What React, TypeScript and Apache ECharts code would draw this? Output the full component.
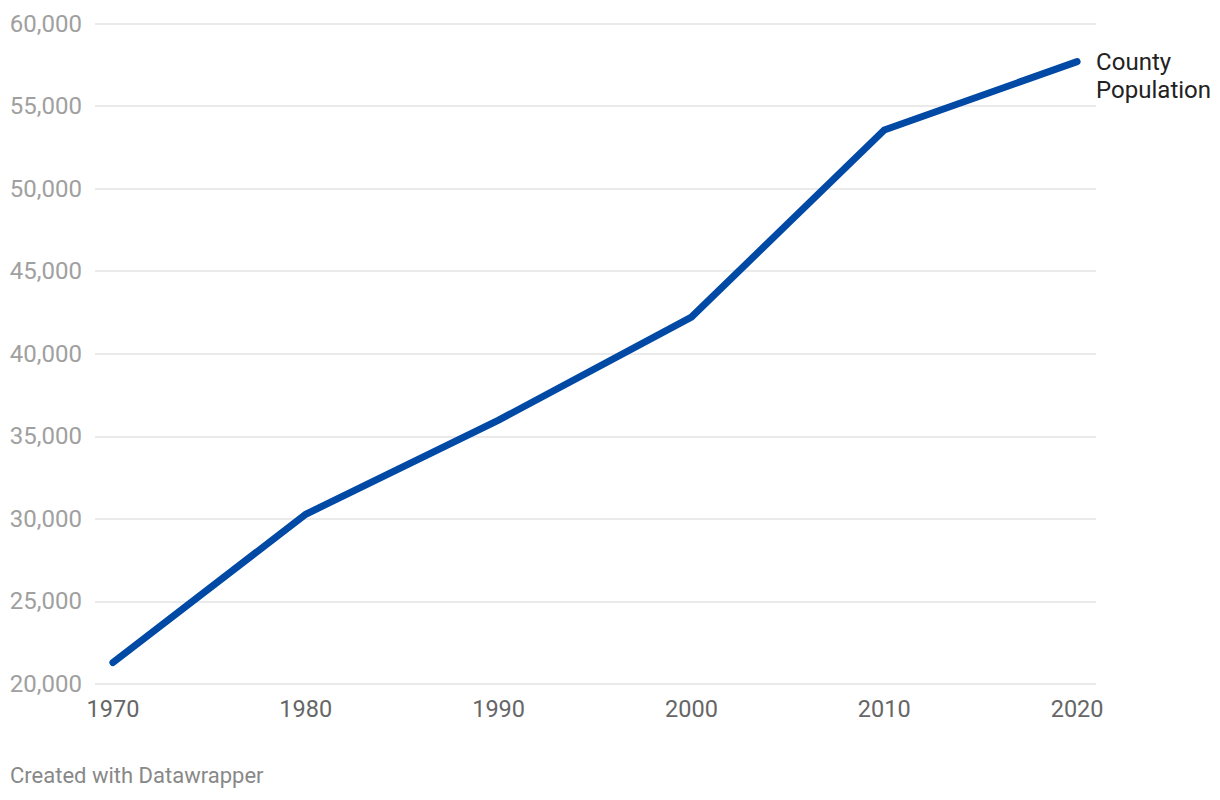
import React, { useEffect, useRef } from "react";
import * as echarts from "echarts";

const years = [1970, 1980, 1990, 2000, 2010, 2020];
const population = [21300, 30280, 35980, 42220, 53550, 57690];
const yTicks = [20000, 25000, 30000, 35000, 40000, 45000, 50000, 55000, 60000];
const seriesName = "County\nPopulation";
const credit = "Created with Datawrapper";

export default function App() {
  const ref = useRef<HTMLDivElement>(null);
  useEffect(() => {
    if (!ref.current) return;
    const chart = echarts.init(ref.current, undefined, { renderer: "svg" });
    chart.setOption({
      animation: false,
      backgroundColor: "#ffffff",
      textStyle: { fontFamily: "Roboto" },
      grid: { left: 95, right: 124, top: 23.5, bottom: 116, containLabel: false },
      xAxis: {
        type: "value",
        min: 1969.07,
        max: 2020.98,
        axisLine: { show: false },
        axisTick: { show: false },
        splitLine: { show: false },
        axisLabel: {
          customValues: years,
          formatter: (v: number) => String(v),
          color: "#666666",
          fontSize: 23.5,
          fontFamily: "Roboto",
          margin: 13,
        },
      },
      yAxis: {
        type: "value",
        min: yTicks[0],
        max: yTicks[yTicks.length - 1],
        interval: 5000,
        axisLine: { show: false },
        axisTick: { show: false },
        splitLine: { show: true, lineStyle: { color: "#e3e3e3", width: 1.5 } },
        axisLabel: {
          formatter: (v: number) => v.toLocaleString("en-US"),
          color: "#a0a0a0",
          fontSize: 24,
          fontFamily: "Roboto",
          margin: 13,
        },
      },
      series: [
        {
          type: "line",
          name: seriesName,
          data: years.map((y, i) => [y, population[i]]),
          showSymbol: false,
          symbol: "none",
          lineStyle: { color: "#0049a5", width: 7, cap: "round", join: "miter" },
          endLabel: {
            show: true,
            formatter: seriesName,
            color: "#222222",
            fontSize: 24,
            lineHeight: 28,
            fontFamily: "Roboto",
            distance: 19,
            offset: [0, 14],
          },
        },
      ],
      graphic: [
        {
          type: "text",
          left: 10,
          top: 764,
          style: { text: credit, fill: "#888888", fontSize: 22, fontFamily: "Roboto" },
        },
      ],
    });
    return () => chart.dispose();
  }, []);
  return (
    <div style={{ position: "fixed", left: 0, top: 0 }}>
      <div ref={ref} style={{ width: 1220, height: 800 }} />
    </div>
  );
}
